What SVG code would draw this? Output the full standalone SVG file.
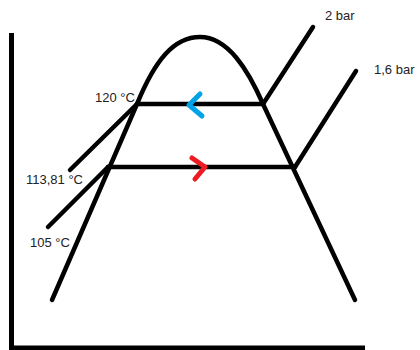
<svg xmlns="http://www.w3.org/2000/svg" width="420" height="350" viewBox="0 0 420 350">
<style>
.ln{fill:none;stroke:#000;stroke-width:4.5;stroke-linecap:round;stroke-linejoin:round}
.ax{fill:none;stroke:#000;stroke-width:5;stroke-linecap:butt}
.lbl{font-family:"Liberation Sans",Arial,sans-serif;font-size:13px;fill:#222}
.ar{fill:none;stroke-width:5;stroke-linecap:round;stroke-linejoin:round}
</style>
<rect width="420" height="350" fill="#fff"/>
<g id="axes">
<path class="ax" d="M11.5,33 V350"/>
<path class="ax" d="M9,348 H365"/>
</g>
<g id="dome">
<path class="ln" d="M52,300 L137,104 C155,60 174,37 200,37 C228,37 248,70 263,104 L355,300"/>
</g>
<g id="connectors">
<path class="ln" d="M137,104 H263"/>
<path class="ln" d="M108,167 H295"/>
<path class="ln" d="M263,104 L313,27"/>
<path class="ln" d="M295,167 L356,71"/>
<path class="ln" d="M137,104 L70,170"/>
<path class="ln" d="M108,167 L48,227"/>
<path class="ar" stroke="#00A2E8" d="M200,94 L189,105 L202,116"/>
<path class="ar" stroke="#ED1C24" d="M192,158 L205,167 L195,179"/>
</g>
<g id="label-120"><text class="lbl" x="95" y="102">120 °C</text></g>
<g id="label-113"><text class="lbl" x="26" y="184">113,81 °C</text></g>
<g id="label-105"><text class="lbl" x="30" y="247">105 °C</text></g>
<g id="label-2bar"><text class="lbl" x="325" y="20">2 bar</text></g>
<g id="label-16bar"><text class="lbl" x="374" y="74">1,6 bar</text></g>
</svg>
